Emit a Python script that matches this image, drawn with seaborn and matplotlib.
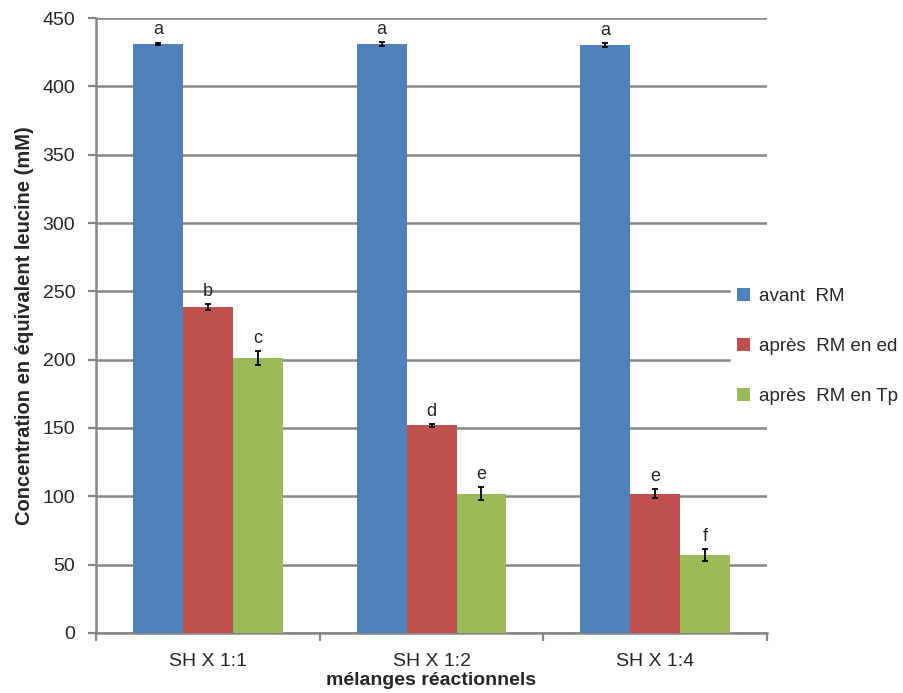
import seaborn as sns
import matplotlib.pyplot as plt
import pandas as pd

# data
groups = ['SH X 1:1', 'SH X 1:2', 'SH X 1:4']
series = ['avant  RM', 'après  RM en ed', 'après  RM en Tp']
avant = [431, 431, 430]
apres_ed = [238.5, 152, 102]
apres_tp = [201, 102, 57]
err_avant = [1, 1.5, 1.5]
err_ed = [2, 1, 3.5]
err_tp = [5, 4.5, 4.5]
letters_avant = ['a', 'a', 'a']
letters_ed = ['b', 'd', 'e']
letters_tp = ['c', 'e', 'f']

colors = ['#4F81BD', '#C0504D', '#9BBB59']
grey = '#868686'

values = [avant, apres_ed, apres_tp]
errors = [err_avant, err_ed, err_tp]
letters = [letters_avant, letters_ed, letters_tp]

df = pd.DataFrame({
    'group': groups * 3,
    'serie': [s for s in series for _ in groups],
    'value': avant + apres_ed + apres_tp,
})

sns.set_style('white')
plt.rcParams['font.family'] = ['Liberation Sans', 'DejaVu Sans']

fig = plt.figure(figsize=(9.04, 6.93), dpi=100)
ax = fig.add_axes([0.1062, 0.0866, 0.7423, 0.8874])

sns.barplot(data=df, x='group', y='value', hue='serie', palette=colors,
            width=0.67, gap=0, saturation=1, errorbar=None, linewidth=0,
            ax=ax, zorder=3)

# error bars and significance letters
for container, vals, errs, lets in zip(ax.containers, values, errors, letters):
    xs = [p.get_x() + p.get_width() / 2 for p in container.patches]
    ax.errorbar(xs, vals, yerr=errs, fmt='none', ecolor='black',
                elinewidth=1.3, capsize=2.5, capthick=1.3, zorder=4)
    for x, v, e, l in zip(xs, vals, errs, lets):
        ax.annotate(l, (x, v + e), xytext=(0, 3), textcoords='offset points',
                    ha='center', va='bottom', fontsize=13, zorder=5)

ax.set_ylim(0, 450)
ax.set_yticks(range(0, 451, 50))
ax.set_xlim(-0.5, 2.5)
ax.yaxis.grid(True, color=grey, linewidth=1.8, zorder=0)
ax.set_axisbelow(True)

for side in ['top', 'right']:
    ax.spines[side].set_visible(False)
for side in ['left', 'bottom']:
    ax.spines[side].set_color(grey)
    ax.spines[side].set_linewidth(1.8)
    ax.spines[side].set_zorder(2)

ax.tick_params(axis='y', left=True, length=6, width=1.6, color=grey,
               labelsize=14, pad=9)
ax.tick_params(axis='x', which='major', bottom=False, labelsize=14, pad=11)
ax.set_xticks([-0.5, 0.5, 1.5, 2.5], minor=True)
ax.tick_params(axis='x', which='minor', bottom=True, length=6, width=1.6,
               color=grey)

ax.set_xlabel('mélanges réactionnels', fontsize=14, fontweight='bold',
              labelpad=1.5)
ax.set_ylabel('Concentration en équivalent leucine (mM)', fontsize=14.5,
              fontweight='bold', labelpad=6)

leg = ax.legend(loc='upper left', bbox_to_anchor=(0.8086, 0.593),
                bbox_transform=fig.transFigure, frameon=True,
                facecolor='white', edgecolor='white', framealpha=1,
                fontsize=13.5, handlelength=0.7, handleheight=0.7,
                handletextpad=0.5, labelspacing=1.75, borderpad=0.3,
                borderaxespad=0)
leg.set_zorder(6)

fig.savefig('out.png', dpi=100)
